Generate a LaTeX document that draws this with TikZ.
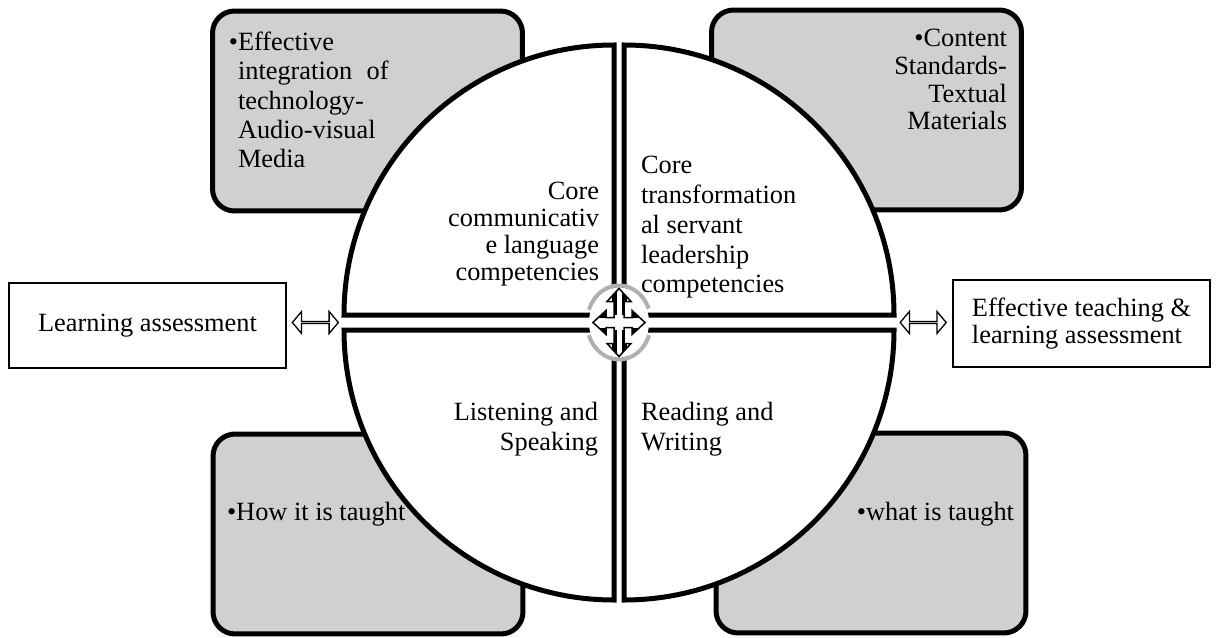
\documentclass[tikz,border=0pt]{standalone}
\usepackage{fontspec}
\setmainfont{Liberation Serif}
\usetikzlibrary{shapes.arrows, calc}

\definecolor{boxgray}{HTML}{D0D0D0}
\definecolor{ringgray}{HTML}{B0B0B0}

% four-way arrow in the middle, relative to its centre
\newcommand{\hubarrow}{(0,34) -- (12,21) -- (5,21) -- (5,5) -- (13,5) -- (13,12) -- (26,0)
  -- (13,-12) -- (13,-5) -- (5,-5) -- (5,-21) -- (12,-21) -- (0,-34) -- (-12,-21)
  -- (-5,-21) -- (-5,-5) -- (-13,-5) -- (-13,-12) -- (-26,0) -- (-13,12) -- (-13,5)
  -- (-5,5) -- (-5,21) -- (-12,21) -- cycle}

\tikzset{
  cornerbox/.style={rectangle, draw=black, line width=0.1cm, rounded corners=0.44cm,
    fill=boxgray, minimum width=6.2cm, minimum height=4cm},
  quadrant/.style={draw=black, line width=0.1cm, fill=white},
  sidebox/.style={rectangle, draw=black, line width=0.028cm, fill=white},
  twoway/.style={double arrow, draw=black, line width=0.026cm, fill=white, inner sep=0,
    minimum height=0.92cm, minimum width=0.44cm, double arrow head extend=0.14cm,
    double arrow tip angle=100},
  txt/.style={inner sep=0, outer sep=0}
}

\begin{document}
\begin{tikzpicture}[x=0.02cm, y=0.02cm, font=\fontsize{15}{17}\selectfont]
  \useasboundingbox (0,0) rectangle (1227,637);

  % corner boxes
  \node[cornerbox] (tlbox) at (367.5,526) {};
  \node[cornerbox] (trbox) at (866.5,527) {};
  \node[cornerbox] (blbox) at (368,103) {};
  \node[cornerbox] (brbox) at (871,104) {};

  \node[txt, anchor=north west, align=left, font=\fontsize{15}{16.7}\selectfont] (tltext) at (238,605)
    {\llap{\textbullet}Effective\\integration\hspace{0.55em}of\\technology-\\Audio-visual\\Media};
  \node[txt, anchor=north east, align=right, font=\fontsize{15}{15.7}\selectfont] (trtext) at (1007,607.5)
    {\textbullet Content\\Standards-\\Textual\\Materials};
  \node[txt, anchor=base west] (bltext) at (227,117) {\textbullet How it is taught};
  \node[txt, anchor=base east] (brtext) at (1014,117) {\textbullet what is taught};

  % circle
  \foreach \cx/\cy/\a in {614/322/90, 624/322/0, 614/307/180, 624/307/270}
    \draw[quadrant] (\cx,\cy) -- ++(\a:270) arc[start angle=\a, delta angle=90, radius=270] -- cycle;

  \coordinate (hub) at (619,314.5);
  \coordinate (cwest) at (344,314.5);
  \coordinate (ceast) at (894,314.5);

  \node[txt, anchor=north east, align=right, font=\fontsize{15}{15.2}\selectfont] (tlquad) at (599,454.5)
    {Core\\communicativ\\e language\\competencies};
  \node[txt, anchor=north west, align=left] (trquad) at (641,481)
    {Core\\transformation\\al servant\\leadership\\competencies};
  \node[txt, anchor=north west, align=left] (brquad) at (641,235)
    {Reading and\\Writing};
  \node[txt, anchor=north east, align=right] (blquad) at (598,235)
    {Listening and\\Speaking};

  % centre
  \fill[white] (hub) ellipse[x radius=30, y radius=35];
  \draw[ringgray, line width=0.08cm] (hub) ++(22:32 and 37) arc[start angle=22, end angle=160, x radius=32, y radius=37];
  \draw[ringgray, line width=0.08cm] (hub) ++(200:32 and 37) arc[start angle=200, end angle=340, x radius=32, y radius=37];
  \begin{scope}
    \clip[shift={(hub)}] \hubarrow;
    \foreach \cx/\cy/\a in {614/322/90, 624/322/0, 614/307/180, 624/307/270}
      \draw[black, line width=0.1cm] (\cx,\cy) -- ++(\a:270) (\cx,\cy) -- ++(\a+90:270);
  \end{scope}
  \draw[black, line width=0.03cm, line join=miter, shift={(hub)}] \hubarrow;

  % left
  \node[sidebox, minimum width=5.54cm, minimum height=1.7cm] (lassess) at (147.5,311.5) {Learning assessment};
  \node[twoway] (larrow) at ($(lassess.east |- cwest)!0.5!(cwest)$) {};

  % right
  \node[sidebox, minimum width=5.14cm, minimum height=1.74cm, align=left, font=\fontsize{15}{15.3}\selectfont]
    (rassess) at (1081.5,313.5) {Effective teaching \&\\learning assessment};
  \node[twoway] (rarrow) at ($(ceast)!0.5!(rassess.west |- ceast)$) {};
\end{tikzpicture}
\end{document}
